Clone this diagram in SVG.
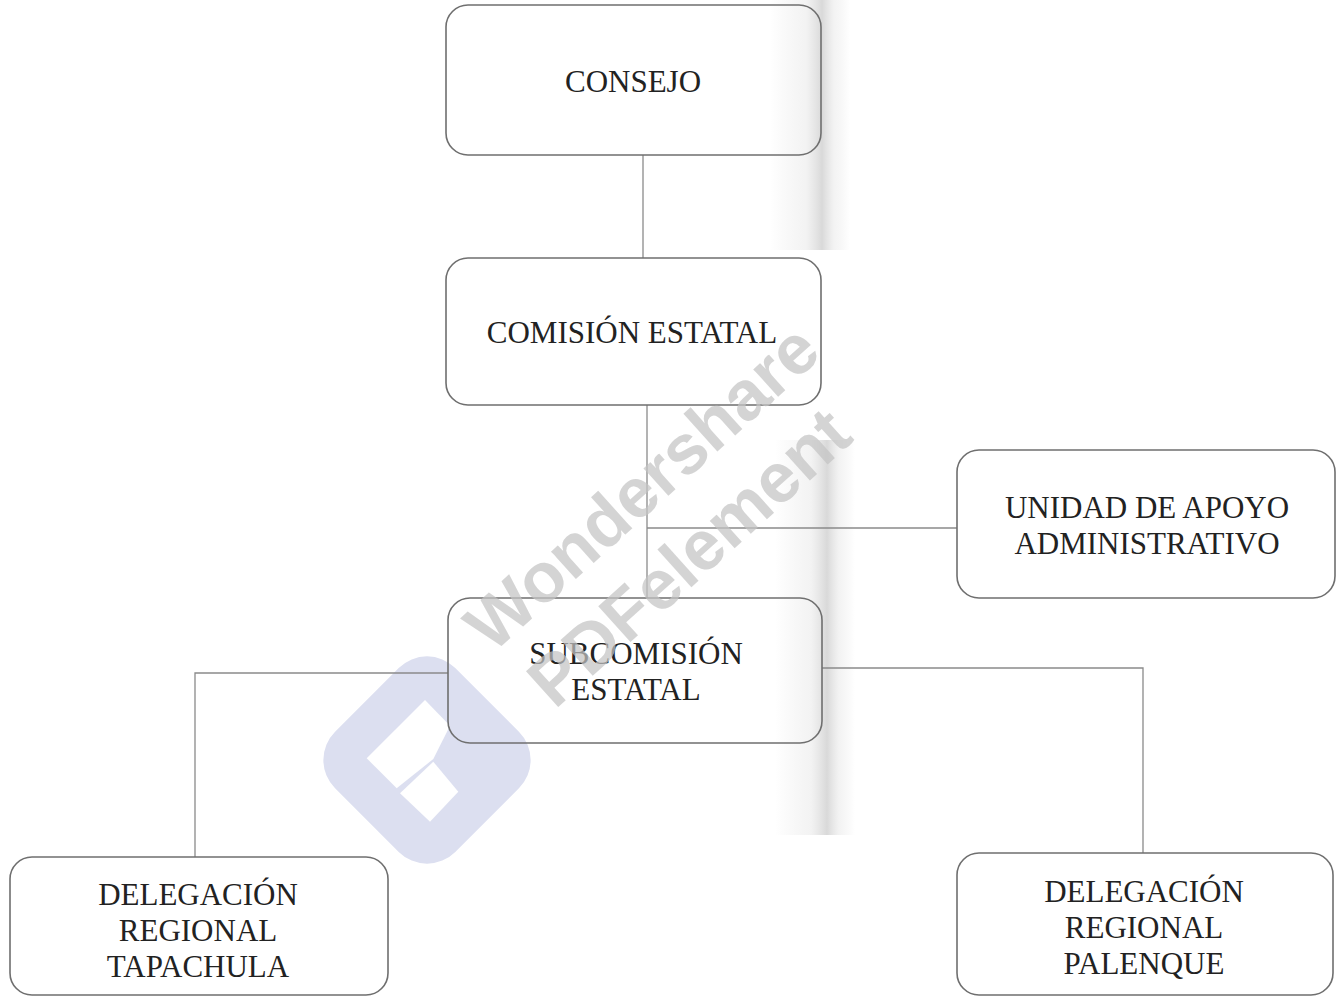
<svg xmlns="http://www.w3.org/2000/svg" width="1338" height="998" viewBox="0 0 1338 998">
  <style>
    .box { fill: none; stroke: #6f6f6f; stroke-width: 1.6; }
    .conn { fill: none; stroke: #8a8a8a; stroke-width: 1.3; }
    .lbl { font-family: "Liberation Serif", "Times New Roman", serif; font-size: 31px; fill: #222; text-anchor: middle; }
    .wm { font-family: "Liberation Sans", Arial, sans-serif; font-weight: bold; font-size: 70px; fill: #c4c4c4; fill-opacity: 0.72; text-anchor: middle; }
  </style>
  <defs>
    <linearGradient id="scan" x1="0" y1="0" x2="1" y2="0">
      <stop offset="0" stop-color="#888" stop-opacity="0"/>
      <stop offset="0.45" stop-color="#999" stop-opacity="0.12"/>
      <stop offset="0.65" stop-color="#777" stop-opacity="0.28"/>
      <stop offset="0.8" stop-color="#999" stop-opacity="0.12"/>
      <stop offset="1" stop-color="#888" stop-opacity="0"/>
    </linearGradient>
  </defs>
  <rect width="1338" height="998" fill="#ffffff"/>

  <g id="scan-artifacts">
    <rect x="770" y="0" width="80" height="250" fill="url(#scan)"/>
    <rect x="775" y="440" width="80" height="395" fill="url(#scan)"/>
  </g>

  <g id="watermark-logo">
    <rect x="342" y="675" width="170" height="170" rx="40" fill="#dcdff0" transform="rotate(45 427 760)"/>
    <polygon points="366.7,758.3 425,700 450,725.7 433.3,759 396.7,788.3" fill="#ffffff"/>
    <polygon points="400,793.3 433.3,761.7 458.3,791.7 430,821.7" fill="#ffffff"/>
  </g>

  <g id="connectors">
    <line class="conn" x1="643" y1="155" x2="643" y2="258"/>
    <line class="conn" x1="647" y1="405" x2="647" y2="598"/>
    <line class="conn" x1="647" y1="528" x2="957" y2="528"/>
    <polyline class="conn" points="448,673 195,673 195,857"/>
    <polyline class="conn" points="822,668 1143,668 1143,853"/>
  </g>

  <g id="consejo">
    <rect class="box" x="446" y="5" width="375" height="150" rx="22"/>
    <text class="lbl" x="633" y="92">CONSEJO</text>
  </g>

  <g id="comision-estatal">
    <rect class="box" x="446" y="258" width="375" height="147" rx="22"/>
    <text class="lbl" x="632" y="343">COMISIÓN ESTATAL</text>
  </g>

  <g id="unidad-apoyo">
    <rect class="box" x="957" y="450" width="378" height="148" rx="22"/>
    <text class="lbl" x="1147" y="518">UNIDAD DE APOYO</text>
    <text class="lbl" x="1147" y="554">ADMINISTRATIVO</text>
  </g>

  <g id="subcomision-estatal">
    <rect class="box" x="448" y="598" width="374" height="145" rx="22"/>
    <text class="lbl" x="636" y="664">SUBCOMISIÓN</text>
    <text class="lbl" x="636" y="700">ESTATAL</text>
  </g>

  <g id="delegacion-tapachula">
    <rect class="box" x="10" y="857" width="378" height="138" rx="22"/>
    <text class="lbl" x="198" y="905">DELEGACIÓN</text>
    <text class="lbl" x="198" y="941">REGIONAL</text>
    <text class="lbl" x="198" y="977">TAPACHULA</text>
  </g>

  <g id="delegacion-palenque">
    <rect class="box" x="957" y="853" width="376" height="142" rx="22"/>
    <text class="lbl" x="1144" y="902">DELEGACIÓN</text>
    <text class="lbl" x="1144" y="938">REGIONAL</text>
    <text class="lbl" x="1144" y="974">PALENQUE</text>
  </g>

  <g id="watermark-text">
    <text class="wm" transform="translate(658 505) rotate(-42)">Wondershare</text>
    <text class="wm" transform="translate(705 575) rotate(-42)">PDFelement</text>
  </g>
</svg>
